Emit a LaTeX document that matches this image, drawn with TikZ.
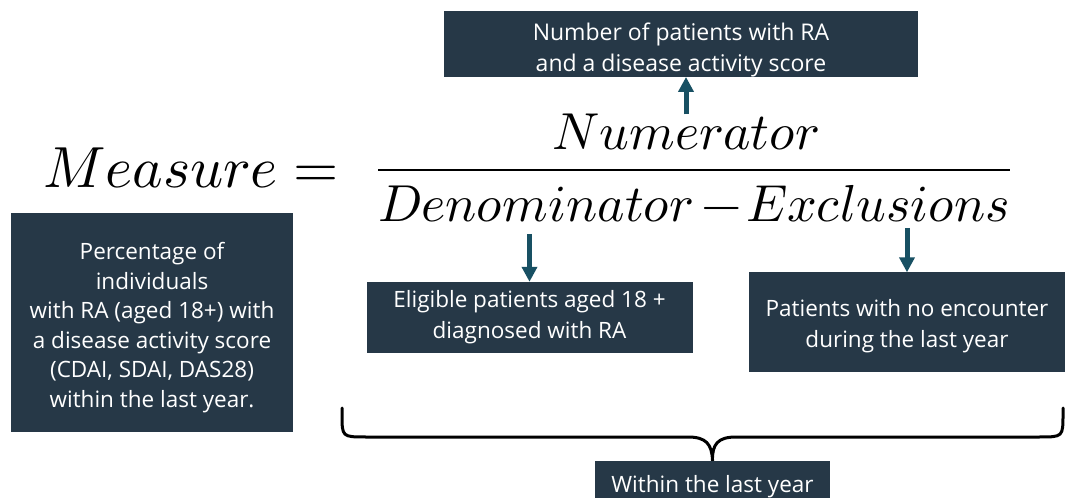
\documentclass[tikz,border=0pt]{standalone}
\usepackage{fontspec}
\usepackage{unicode-math}
\setsansfont{Open Sans}
\usetikzlibrary{arrows.meta}
\definecolor{boxnavy}{RGB}{38,56,71}
\definecolor{arrowteal}{RGB}{24,80,99}

\begin{document}
\begin{tikzpicture}[x=1bp,y=-1bp,
  infobox/.style={fill=boxnavy, text=white, align=center, inner sep=0pt, font=\sffamily\fontsize{22.5bp}{31bp}\selectfont},
  formula/.style={inner sep=0pt, font=\fontsize{52bp}{60bp}\selectfont},
  arr/.style={-{Triangle[length=15bp,width=15bp]}, line width=5bp, color=arrowteal}]
  \useasboundingbox (0,0) rectangle (1065,498);

  % the measure as a fraction
  \node[formula, anchor=base west, font=\fontsize{58bp}{64bp}\selectfont] (meas) at (43,188) {$Measure =$};
  \node[formula, anchor=base] (num) at (686,150) {$Numerator$};
  \draw[line width=2.5bp] (378,170) -- (1010,170);
  \node[formula, anchor=base west] (den) at (378,222) {$Denominator$};
  \node[formula, anchor=base] (minus) at (722,222) {$-$};
  \node[formula, anchor=base east] (excl) at (1010,222) {$Exclusions$};

  % explanations
  \node[infobox, font=\sffamily\fontsize{23bp}{31bp}\selectfont, minimum width=474bp, minimum height=64bp] (numbox) at (681,44)
    {\rule{0pt}{29bp}Number of patients with RA\\and a disease activity score};
  \node[infobox, font=\sffamily\fontsize{22.5bp}{29.5bp}\selectfont, minimum width=282bp, minimum height=219bp] (pct) at (152,322.5)
    {\rule{0pt}{27bp}Percentage of\\individuals\\with RA (aged 18+) with\\a disease activity score\\(CDAI, SDAI, DAS28)\\within the last year.};
  \node[infobox, minimum width=326bp, minimum height=71bp] (elig) at (529.5,317.5)
    {Eligible patients aged 18 +\\diagnosed with RA};
  \node[infobox, minimum width=317bp, minimum height=99bp] (nocare) at (907,322)
    {\rule{0pt}{25bp}Patients with no encounter\\during the last year};
  \node[infobox, minimum width=235bp, minimum height=46bp, text depth=0pt] (year) at (712.5,484)
    {Within the last year};

  \draw[arr] (num.north) -- (num.north |- numbox.south);
  \draw[arr, shorten <=11bp] (elig.north |- den.south) -- (elig.north);
  \draw[arr, shorten <=5bp] (nocare.north |- excl.south) -- (nocare.north);

  % brace over denominator boxes
  \draw[line width=3bp, line cap=round] (342,408) -- (342,414)
    .. controls (342,437) .. (366,437) -- (688,437)
    .. controls (706,437) and (712,444) .. (year.north)
    .. controls (712,444) and (718,437) .. (736,437) -- (1039,437)
    .. controls (1063,437) .. (1063,414) -- (1063,408);
\end{tikzpicture}
\end{document}
